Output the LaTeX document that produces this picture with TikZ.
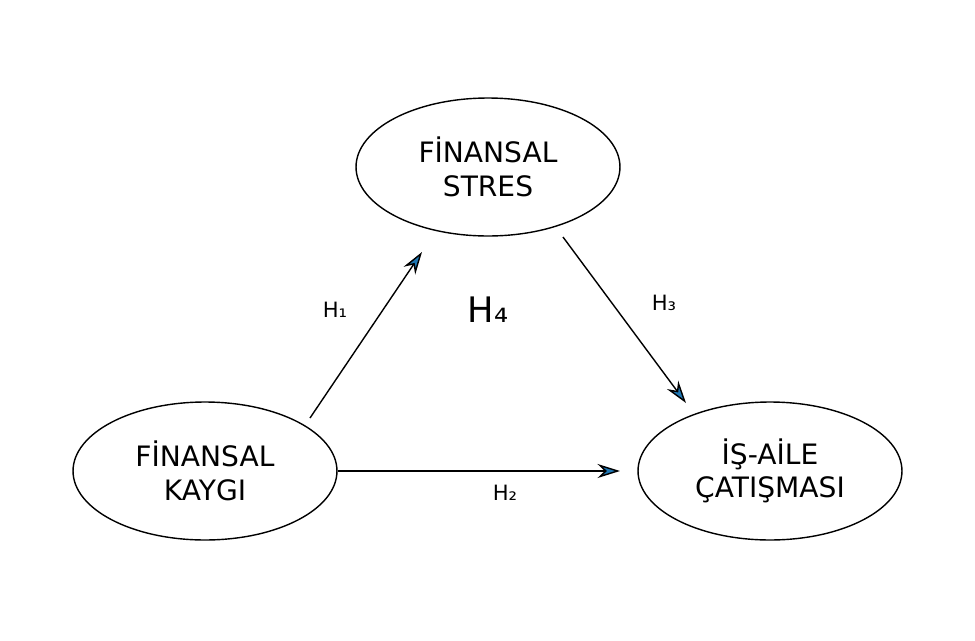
\documentclass[tikz,border=0pt]{standalone}
\usepackage{fontspec}
\setmainfont{DejaVu Sans}
\usetikzlibrary{shapes.geometric, arrows.meta, positioning}
\definecolor{tipblue}{RGB}{31,119,180}
\tikzset{
    construct/.style={ellipse, draw, thick, minimum width=5.28cm, minimum height=2.76cm, align=center, font=\fontsize{16}{19}\selectfont},
    path/.style={-{Stealth[length=0.45cm, width=0.28cm, fill=tipblue]}, thick},
    hyp/.style={font=\fontsize{12}{14}\selectfont}
}
\begin{document}
\begin{tikzpicture}[x=0.02cm, y=-0.02cm]
    \useasboundingbox (0,0) rectangle (975,640);
    % Constructs
    \node[construct] (stres) at (488,167) {FİNANSAL\\STRES};
    \node[construct] (kaygi) at (205,471) {FİNANSAL\\KAYGI};
    \node[construct] (catisma) at (770,471) {İŞ-AİLE\\ÇATIŞMASI};

    % Arrow end points
    \coordinate (h1s) at (310,418);
    \coordinate (h1e) at (422,252);
    \coordinate (h3s) at (563,237);
    \coordinate (h3e) at (686,403);
    \coordinate (h2e) at (620,471);

    % Paths
    \draw[path] (h1s) -- (h1e);
    \draw[path] (h3s) -- (h3e);
    \draw[path] (kaygi.east) -- (h2e);

    % Hypotheses
    \node[hyp] (h1) at (335,310) {H₁};
    \node[hyp] (h2) at (505,493) {H₂};
    \node[hyp] (h3) at (664,303) {H₃};
    \node[font=\fontsize{20}{24}\selectfont] (h4) at (488,310) {H₄};
\end{tikzpicture}
\end{document}
